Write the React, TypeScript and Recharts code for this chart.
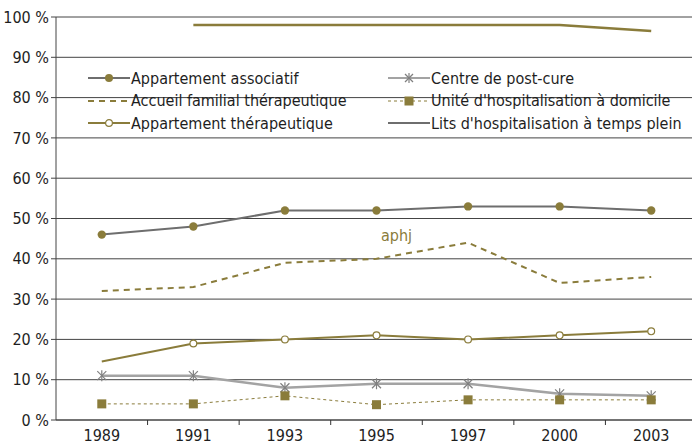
import React from "react";
import { LineChart, Line, XAxis, YAxis, CartesianGrid } from "recharts";

const years = ["1989", "1991", "1993", "1995", "1997", "2000", "2003"];
const appartementAssociatif = [46, 48, 52, 52, 53, 53, 52];
const accueilFamilial = [32, 33, 39, 40, 44, 34, 35.5];
const appartementTherapeutique = [14.5, 19, 20, 21, 20, 21, 22];
const centrePostCure = [11, 11, 8, 9, 9, 6.5, 6];
const uniteHAD = [4, 4, 6, 3.8, 5, 5, 5];
const litsTempsPlein: (number | null)[] = [null, 98, 98, 98, 98, 98, 96.5];
const yTicks = [0, 10, 20, 30, 40, 50, 60, 70, 80, 90, 100];
const annotation = "aphj";

const data = years.map((y, i) => ({
  year: y,
  assoc: appartementAssociatif[i],
  accueil: accueilFamilial[i],
  therap: appartementTherapeutique[i],
  postcure: centrePostCure[i],
  had: uniteHAD[i],
  lits: litsTempsPlein[i],
}));

const OLIVE = "#8a7c3b";
const DARK = "#6e6e6e";
const LIGHT = "#a3a3a3";
const FONT = "'DejaVu Sans Condensed', 'Liberation Sans Narrow', sans-serif";
const TEXT = "#1e1e1e";
const FS = 16;

const FilledDot = (p: any) => (
  <circle key={`fd${p.index}`} cx={p.cx} cy={p.cy} r={4.2} fill={OLIVE} stroke="none" />
);
const OpenDot = (p: any) =>
  p.index === 0 ? (
    <g key={`od${p.index}`} />
  ) : (
    <circle key={`od${p.index}`} cx={p.cx} cy={p.cy} r={3.4} fill="#fff" stroke={OLIVE} strokeWidth={1.2} />
  );
const StarDot = (p: any) => {
  const s = 4.5;
  return (
    <g key={`sd${p.index}`} stroke="#808080" strokeWidth={1.2}>
      <line x1={p.cx - s} y1={p.cy - s} x2={p.cx + s} y2={p.cy + s} />
      <line x1={p.cx - s} y1={p.cy + s} x2={p.cx + s} y2={p.cy - s} />
      <line x1={p.cx} y1={p.cy - s - 1} x2={p.cx} y2={p.cy + s + 1} />
    </g>
  );
};
const SquareDot = (p: any) => (
  <rect key={`sq${p.index}`} x={p.cx - 4.5} y={p.cy - 4.5} width={9} height={9} fill={OLIVE} />
);

const XTick = (p: any) => {
  const { x, y, payload, index, visibleTicksCount, width } = p;
  const bw = width / visibleTicksCount;
  const last = index === visibleTicksCount - 1;
  return (
    <g>
      {!last && <line x1={x + bw / 2} y1={y} x2={x + bw / 2} y2={y + 5} stroke="#333" strokeWidth={1} />}
      <text x={x} y={y + 21} textAnchor="middle" fontFamily={FONT} fontSize={FS} fill={TEXT}>
        {payload.value}
      </text>
    </g>
  );
};

type LegItem = { label: string; kind: string };
const legendLeft: LegItem[] = [
  { label: "Appartement associatif", kind: "assoc" },
  { label: "Accueil familial thérapeutique", kind: "accueil" },
  { label: "Appartement thérapeutique", kind: "therap" },
];
const legendRight: LegItem[] = [
  { label: "Centre de post-cure", kind: "postcure" },
  { label: "Unité d'hospitalisation à domicile", kind: "had" },
  { label: "Lits d'hospitalisation à temps plein", kind: "lits" },
];

const Symbol = ({ kind }: { kind: string }) => {
  const w = 42;
  const c = 21;
  return (
    <svg width={w} height={12} style={{ display: "block" }}>
      {kind === "assoc" && (
        <>
          <line x1={0} y1={6} x2={w} y2={6} stroke={DARK} strokeWidth={2} />
          <circle cx={c} cy={6} r={4} fill={OLIVE} />
        </>
      )}
      {kind === "accueil" && <line x1={0} y1={6} x2={w} y2={6} stroke={OLIVE} strokeWidth={2} strokeDasharray="6 5" />}
      {kind === "therap" && (
        <>
          <line x1={0} y1={6} x2={w} y2={6} stroke={OLIVE} strokeWidth={2} />
          <circle cx={c} cy={6} r={3.4} fill="#fff" stroke={OLIVE} strokeWidth={1.2} />
        </>
      )}
      {kind === "postcure" && (
        <>
          <line x1={0} y1={6} x2={w} y2={6} stroke={LIGHT} strokeWidth={2} />
          <g stroke="#808080" strokeWidth={1.2}>
            <line x1={c - 4} y1={2} x2={c + 4} y2={10} />
            <line x1={c - 4} y1={10} x2={c + 4} y2={2} />
            <line x1={c} y1={1} x2={c} y2={11} />
          </g>
        </>
      )}
      {kind === "had" && (
        <>
          <line x1={0} y1={6} x2={w} y2={6} stroke={OLIVE} strokeWidth={1} strokeDasharray="3 3" />
          <rect x={c - 4.5} y={1.5} width={9} height={9} fill={OLIVE} />
        </>
      )}
      {kind === "lits" && <line x1={0} y1={6} x2={w} y2={6} stroke={DARK} strokeWidth={2} />}
    </svg>
  );
};

const LegendColumn = ({ items, left }: { items: LegItem[]; left: number }) => (
  <div style={{ position: "absolute", left, top: 0 }}>
    {items.map((it) => (
      <div key={it.kind} style={{ display: "flex", alignItems: "center", height: 22.5 }}>
        <Symbol kind={it.kind} />
        <span style={{ fontFamily: FONT, fontSize: FS, color: TEXT, marginLeft: 1, whiteSpace: "nowrap" }}>{it.label}</span>
      </div>
    ))}
  </div>
);

export default function App() {
  return (
    <div style={{ position: "absolute", left: 0, top: 0, width: 692, height: 444, overflow: "hidden", background: "#fff" }}>
      <LineChart width={697} height={444} data={data} margin={{ top: 17, right: 0, bottom: 0, left: 0 }}>
        <CartesianGrid vertical={false} stroke="#444" strokeWidth={1} />
        <XAxis
          dataKey="year"
          scale="band"
          height={24}
          axisLine={{ stroke: "#444", strokeWidth: 1 }}
          tickLine={false}
          tickSize={0}
          tickMargin={0}
          tick={<XTick />}
          interval={0}
        />
        <YAxis
          width={56}
          domain={[0, 100]}
          ticks={yTicks}
          interval={0}
          tickFormatter={(v: number) => `${v} %`}
          axisLine={{ stroke: "#444", strokeWidth: 1 }}
          tickLine={{ stroke: "#444" }}
          tickSize={5}
          tickMargin={2}
          tick={{ fontFamily: FONT, fontSize: FS, fill: TEXT }}
        />
        <Line dataKey="lits" stroke={OLIVE} strokeWidth={2.5} dot={false} isAnimationActive={false} />
        <Line dataKey="accueil" stroke={OLIVE} strokeWidth={2} strokeDasharray="6 5" dot={false} isAnimationActive={false} />
        <Line dataKey="therap" stroke={OLIVE} strokeWidth={2} dot={OpenDot} isAnimationActive={false} />
        <Line dataKey="postcure" stroke={LIGHT} strokeWidth={2.5} dot={StarDot} isAnimationActive={false} />
        <Line dataKey="had" stroke={OLIVE} strokeWidth={1} strokeDasharray="3 3" dot={SquareDot} isAnimationActive={false} />
        <Line dataKey="assoc" stroke={DARK} strokeWidth={2} dot={FilledDot} isAnimationActive={false} />
      </LineChart>
      <div style={{ position: "absolute", left: 88, top: 67, width: 600, height: 70 }}>
        <LegendColumn items={legendLeft} left={0} />
        <LegendColumn items={legendRight} left={300} />
      </div>
      <div
        style={{ position: "absolute", left: 381, top: 226, fontFamily: FONT, fontSize: FS, color: OLIVE, lineHeight: "20px" }}
      >
        {annotation}
      </div>
    </div>
  );
}
